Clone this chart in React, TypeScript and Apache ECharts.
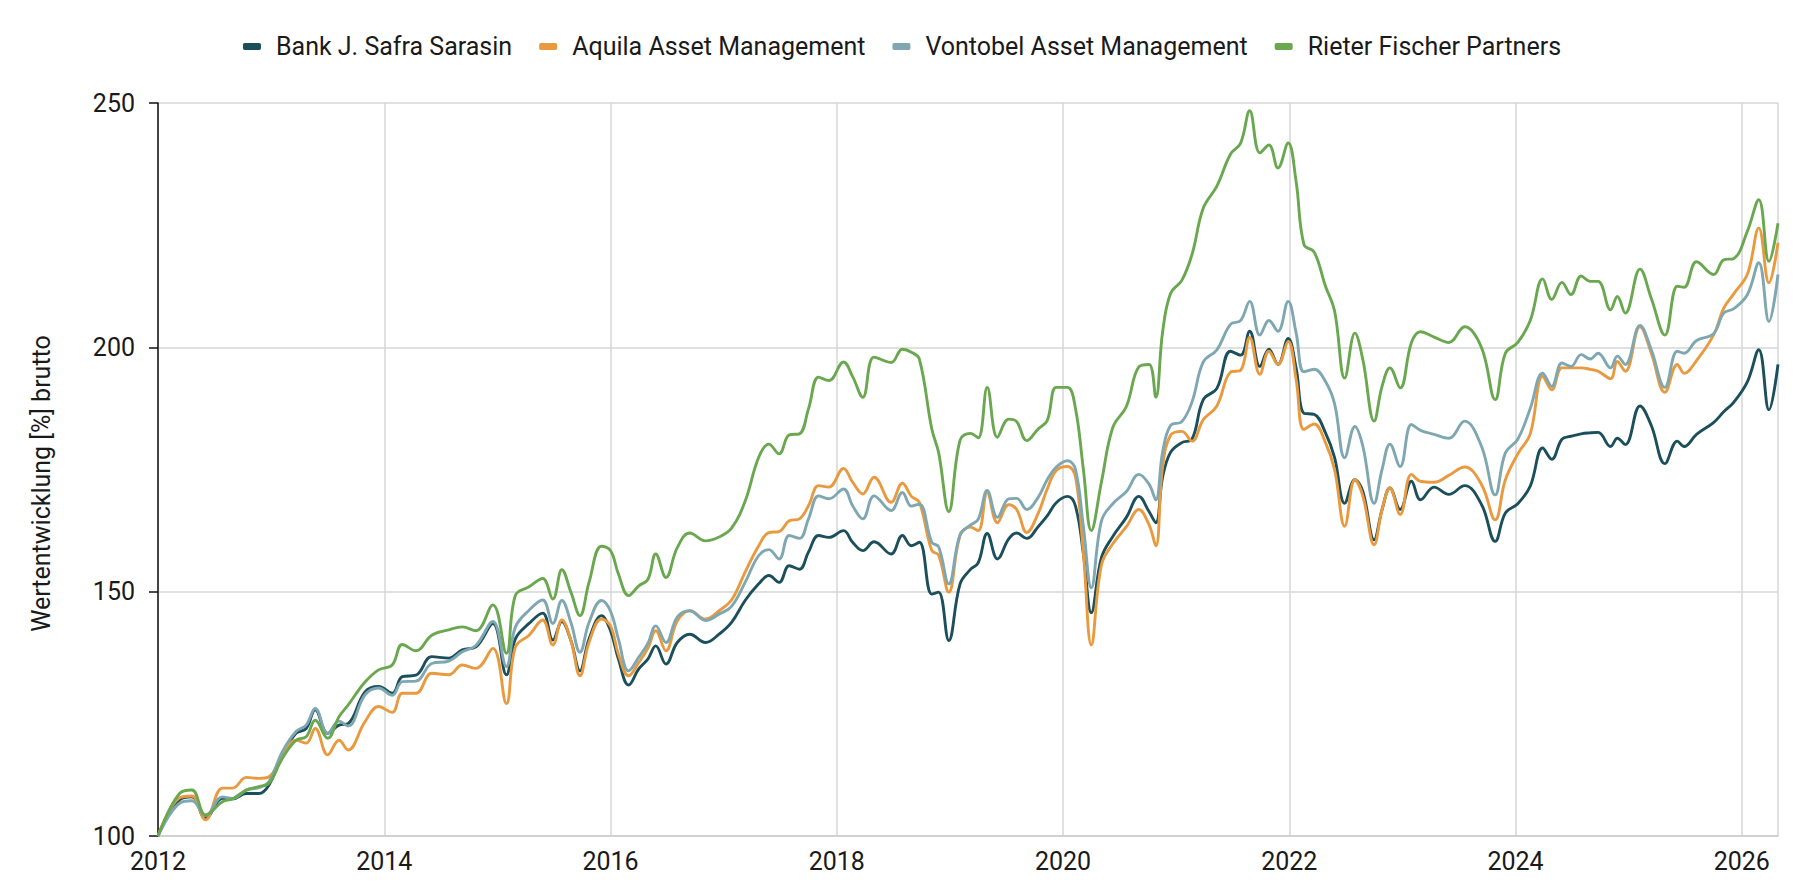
import { useEffect, useRef } from 'react';
import * as echarts from 'echarts';

const seriesNames = [
  'Bank J. Safra Sarasin',
  'Aquila Asset Management',
  'Vontobel Asset Management',
  'Rieter Fischer Partners',
];
const colors = ['#1b4f5c', '#e99a3f', '#7ea7b2', '#6aa84f'];

const dates = [
  2012.0, 2012.19, 2012.3, 2012.42, 2012.57, 2012.66, 2012.78, 2012.89, 2012.98,
  2013.1, 2013.22, 2013.31, 2013.39, 2013.5, 2013.6, 2013.68, 2013.83, 2013.95,
  2014.07, 2014.16, 2014.28, 2014.42, 2014.57, 2014.69, 2014.81, 2014.96,
  2015.08, 2015.16, 2015.28, 2015.4, 2015.49, 2015.57,
  2015.65, 2015.73, 2015.81, 2015.92, 2016.0, 2016.07, 2016.16, 2016.25, 2016.33, 2016.4, 2016.49, 2016.59, 2016.7, 2016.84, 2016.96,
  2017.07, 2017.19, 2017.31, 2017.4, 2017.49, 2017.58, 2017.67, 2017.75, 2017.84, 2017.93,
  2018.06, 2018.14, 2018.23, 2018.33, 2018.48, 2018.58, 2018.66, 2018.73, 2018.84, 2018.9, 2018.99,
  2019.09, 2019.18, 2019.25, 2019.33, 2019.42, 2019.52, 2019.59, 2019.68, 2019.78, 2019.86, 2019.94,
  2020.04, 2020.11, 2020.18, 2020.25, 2020.34, 2020.44, 2020.56, 2020.67, 2020.76, 2020.82, 2020.88, 2020.95,
  2021.05, 2021.14, 2021.24, 2021.36, 2021.48, 2021.57, 2021.65, 2021.74, 2021.82, 2021.9, 2021.99,
  2022.06, 2022.13, 2022.22, 2022.32, 2022.4,
  2022.49, 2022.58, 2022.65, 2022.75, 2022.82, 2022.89, 2022.98,
  2023.08, 2023.16, 2023.28, 2023.41, 2023.55, 2023.7, 2023.82, 2023.91,
  2024.02, 2024.13, 2024.24, 2024.32, 2024.41, 2024.49, 2024.58, 2024.66, 2024.73, 2024.84, 2024.9, 2024.97,
  2025.1, 2025.2, 2025.32, 2025.43, 2025.49, 2025.6, 2025.75, 2025.84, 2025.93,
  2026.05, 2026.15, 2026.24, 2026.32,
];

const sarasin = [
  100, 107.4, 108, 103.6, 107.7, 107.6, 108.7, 108.7, 110.4,
  116.6, 121, 122, 125.8, 121, 122.7, 123, 129.5, 130.6,
  129.2, 132.6, 132.9, 136.7, 136.4, 138.1, 138.7, 143.5,
  133, 140.4, 143.5, 145.6, 140.1, 143.9,
  140, 133.8, 140.3, 145.1, 142, 136.2, 130.9, 134.2, 136.2, 138.9, 135.2, 139.6, 141.3, 139.6, 141.3,
  143.7, 148.2, 151.6, 153.3, 151.9, 155.3, 154.6, 158.1, 161.5, 161.1,
  162.5, 160.1, 158.4, 160.2, 157.7, 161.5, 159.4, 160.1, 149.5, 149.9, 140,
  151.6, 154.5, 155.9, 161.9, 156.7, 160.8, 162, 160.9, 163.3, 165.5, 168.2,
  169.5, 167.5, 157.8, 145.7, 157, 161.3, 165.2, 169.5, 166.4, 164.1, 173.4, 178.5,
  180.5, 181.2, 189.3, 191.6, 199.2, 198.4, 203.3, 196.1, 199.6, 196.5, 201.8,
  195.8, 186.5, 186.3, 182.5, 177.5,
  168.1, 172.9, 170.5, 160.6, 166.8, 171.2, 166.8,
  172.6, 168.8, 171.4, 169.9, 171.7, 167.8, 160.3, 166.1,
  168, 171.6, 179.4, 177.1, 181.2, 181.8, 182.3, 182.5, 182.6, 179.7, 181.4, 180.1,
  188, 184, 176.2, 180.8, 179.7, 182.2, 184.6, 186.8, 188.8,
  193, 199.5, 187.2, 196.5,
];

const aquila = [
  100, 107.8, 108.2, 103.3, 109.8, 109.8, 112, 111.8, 112.1,
  116.6, 119.6, 119, 122, 116.6, 119.6, 117.6, 123.4, 126.5,
  125.3, 129.2, 129.2, 133.3, 133, 135, 134.3, 138.4,
  127.1, 138.7, 141.1, 144.2, 139.1, 144.2,
  140, 132.8, 139.6, 144.4, 143, 137.2, 132.8, 135.5, 138.4, 142, 137.9, 144, 146.1, 144.4, 146.1,
  148.3, 154, 159.4, 162.1, 162.3, 164.5, 164.9, 167.6, 171.7, 171.4,
  175.2, 172.4, 170, 173.4, 168.3, 172.2, 169.5, 168.3, 158.4, 157.5, 149.9,
  161.5, 163.2, 162.5, 170.3, 164.1, 167.8, 166.8, 162.1, 166, 171, 174.8,
  175.6, 173.5, 157.8, 139.1, 155.5, 159.8, 163.3, 166.8, 163.7, 159.4, 175.5, 182,
  182.8, 180.8, 185.2, 188, 194.9, 195.3, 202, 194.5, 199.2, 196.5, 201.2,
  193.5, 183.2, 184.3, 180.5, 175,
  163.4, 172.9, 169.6, 159.6, 166.8, 171.2, 165.8,
  174, 172.6, 172.4, 173.8, 175.5, 171.9, 164.7, 172.9,
  178.2, 182.3, 194.1, 191.3, 195.8, 195.8, 195.8, 195.5, 195.1, 193.6, 197.1, 195.1,
  204.2, 198.8, 190.8, 196.5, 194.7, 197.3, 202.5, 208, 211,
  215, 224.4, 213.2, 221.4,
];

const vontobel = [
  100, 106.7, 107.2, 104.2, 108, 107.7, 109.4, 109.9, 111.1,
  117.3, 121.4, 122.7, 126.1, 121, 123.5, 122.5, 128.9, 130.3,
  128.8, 131.6, 131.7, 135.3, 135.8, 137.7, 139, 143.9,
  134.7, 142.8, 146.2, 148.3, 143.5, 148.2,
  143.7, 137.6, 143.7, 148.2, 146, 140.3, 133.8, 136.6, 139.4, 143, 139.6, 144.8, 146.1, 144.1, 145.4,
  147, 151.9, 157.4, 158.6, 156.7, 161.5, 160.9, 164.9, 169.6, 169,
  171, 167.6, 164.9, 169.6, 166.6, 170.3, 167.5, 167.9, 160.1, 159.2, 151.6,
  161.7, 163.6, 164.8, 170.7, 165.2, 169, 169.1, 166.8, 169.3, 172.9, 175.5,
  176.8, 175, 163.3, 150.8, 164.5, 168, 170.5, 174, 172, 168.8, 178.5, 184,
  184.8, 188.8, 197, 199.5, 204.7, 205.5, 209.4, 202.5, 205.5, 203.3, 209.4,
  203, 195, 195.5, 193, 188.5,
  177.4, 183.8, 179.8, 168.1, 175, 180.2, 175.6,
  184.2, 183, 182.2, 181.4, 184.9, 179.7, 169.8, 178.4,
  181.2, 187.5, 194.7, 192, 196.8, 196.1, 198.5, 197.6, 198.8, 195.8, 198.2, 196.5,
  204.5, 199.5, 191.8, 199.2, 198.8, 201.4, 202.8, 207, 207.9,
  210.8, 217.3, 205.3, 214.9,
];

const rieter = [
  100, 108.7, 109.4, 104.3, 107, 107.6, 109.4, 110.1, 110.8,
  115.9, 119.6, 120.3, 123.7, 120, 124.4, 126.8, 131.5, 134,
  135, 139.2, 137.9, 141.1, 142.2, 142.8, 142, 147.3,
  137.4, 149.3, 151, 152.7, 148.5, 154.5,
  149.9, 145.1, 151.9, 159.3, 158.4, 153.6, 149.2, 151.2, 152.5, 157.7, 152.9, 159, 162, 160.4, 161.2,
  163, 168.5, 177.5, 180.2, 178.2, 182.1, 182.3, 187.4, 193.9, 193.2,
  197, 194, 189.8, 198, 196.9, 199.6, 199, 197.6, 183.3, 178.5, 166.4,
  181, 182.4, 181.5, 191.8, 181.6, 185.3, 184.8, 180.9, 183.3, 185, 191.8,
  191.8, 187.5, 175, 162.5, 172.5, 183.6, 187.9, 196, 196.5, 189.8, 203.1, 211,
  213.7, 219, 228.5, 233, 239.5, 241.8, 248.4, 239.8, 241.4, 236.7, 241.8,
  234, 221, 219.5, 212.5, 207.5,
  193.7, 202.9, 197.5, 184.9, 192, 195.8, 191.7,
  201, 203.2, 202.1, 201, 204.2, 199.9, 189.3, 198.8,
  201, 205.5, 214, 209.8, 213.3, 210.8, 214.6, 213.5, 213.5, 207.7, 210.4, 207,
  216, 210, 202.5, 212.5, 212.3, 217.5, 214.9, 217.9, 218.2,
  223.8, 230.2, 217.6, 225.4,
];

const allValues = [sarasin, aquila, vontobel, rieter];
const yTicks = [100, 150, 200, 250];

export default function App() {
  const ref = useRef<HTMLDivElement>(null);

  useEffect(() => {
    if (!ref.current) return;
    const chart = echarts.init(ref.current, null, { renderer: 'svg' });
    const font = 'Roboto, sans-serif';

    chart.setOption({
      animation: false,
      textStyle: { fontFamily: font },
      legend: {
        top: 29,
        left: 'center',
        itemWidth: 18,
        itemHeight: 7,
        itemGap: 27,
        icon: 'roundRect',
        textStyle: { fontSize: 25, color: '#1a1a1a', fontFamily: font, padding: [0, 0, 0, 10] },
        data: seriesNames,
      },
      grid: { left: 158, right: 26, top: 103, bottom: 54, containLabel: false },
      xAxis: {
        type: 'value',
        min: 2012,
        max: 2026.32,
        interval: 2,
        axisLine: { show: true, lineStyle: { color: '#cccccc', width: 1.5 } },
        axisTick: { show: false },
        axisLabel: {
          fontSize: 25,
          color: '#1a1a1a',
          margin: 13,
          showMaxLabel: false,
          formatter: (v: number) => (Number.isInteger(v) && v % 2 === 0 ? String(v) : ''),
        },
        splitLine: { show: true, lineStyle: { color: '#d6d6d6', width: 1.5 } },
      },
      yAxis: {
        type: 'value',
        min: yTicks[0],
        max: yTicks[yTicks.length - 1],
        interval: 50,
        name: 'Wertentwicklung [%] brutto',
        nameLocation: 'middle',
        nameGap: 104,
        nameTextStyle: { fontSize: 25, color: '#1a1a1a', fontFamily: font, padding: [0, 28, 0, 0] },
        axisLine: { show: true, lineStyle: { color: '#111', width: 1.5 } },
        axisTick: { show: true, length: 9, lineStyle: { color: '#111', width: 1.5 } },
        axisLabel: { fontSize: 25, color: '#1a1a1a', margin: 23 },
        splitLine: { show: true, lineStyle: { color: '#d6d6d6', width: 1.5 } },
      },
      series: seriesNames.map((name, k) => ({
        name,
        type: 'line',
        smooth: 0.4,
        showSymbol: false,
        symbol: 'none',
        color: colors[k],
        lineStyle: { width: 2.9, color: colors[k] },
        data: dates.map((d, i) => [d, allValues[k][i]]),
      })),
    });

    return () => chart.dispose();
  }, []);

  return (
    <div
      ref={ref}
      style={{ position: 'fixed', left: 0, top: 0, width: '100vw', height: '100vh', background: '#fff' }}
    />
  );
}
